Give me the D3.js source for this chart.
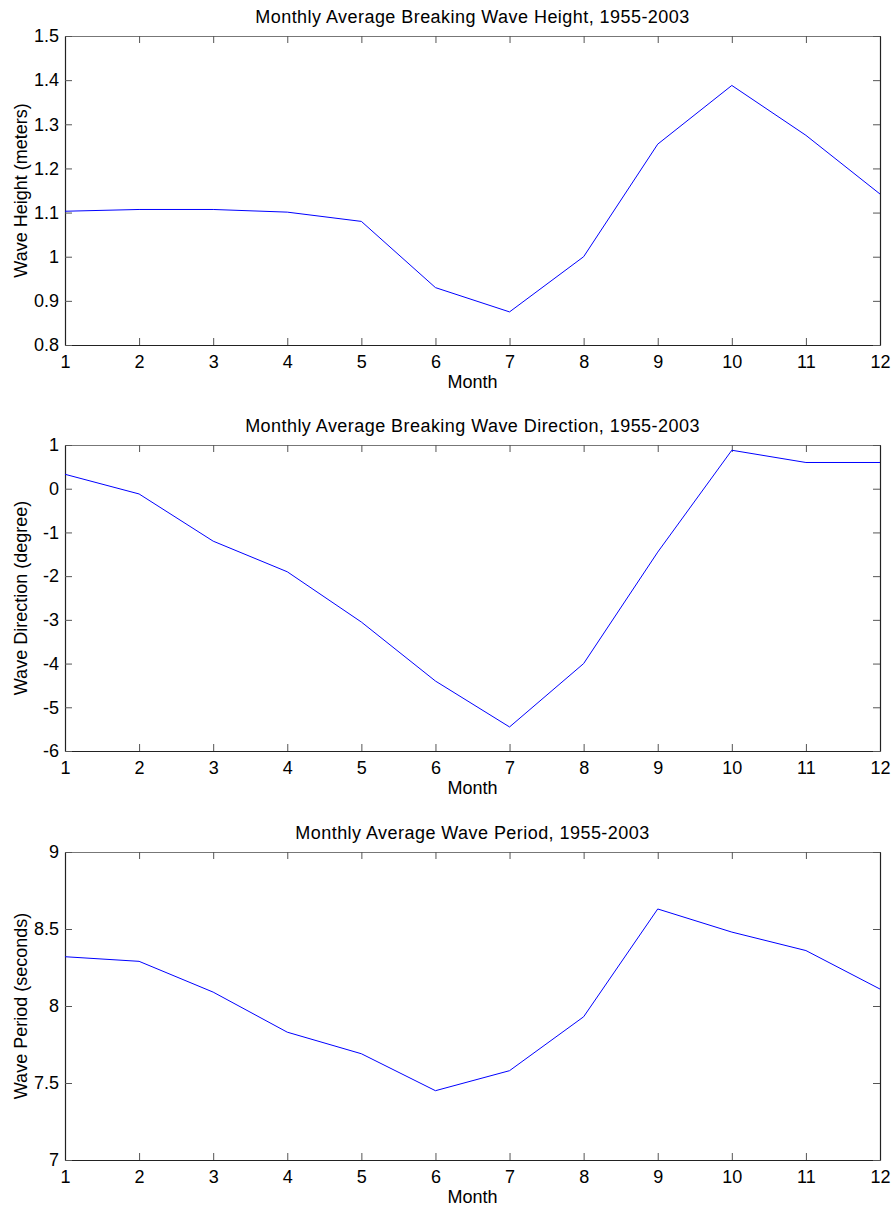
<!DOCTYPE html>
<html>
<head>
<meta charset="utf-8">
<script src="https://cdn.jsdelivr.net/npm/d3@7"></script>
<style>
  body { margin: 0; background: #fff; }
  svg { display: block; font-family: "Liberation Sans", Arial, sans-serif; }
</style>
</head>
<body>
<div id="chart"></div>
<script>
// monthly values
const months = [1, 2, 3, 4, 5, 6, 7, 8, 9, 10, 11, 12];
const waveHeight = [1.103, 1.107, 1.107, 1.101, 1.08, 0.93, 0.875, 1.0, 1.255, 1.388, 1.275, 1.142];
const waveDirection = [0.33, -0.12, -1.2, -1.9, -3.05, -4.4, -5.45, -4.0, -1.45, 0.88, 0.6, 0.6];
const wavePeriod = [8.32, 8.29, 8.09, 7.83, 7.69, 7.45, 7.58, 7.93, 8.63, 8.48, 8.36, 8.11];

const heightTicks = [0.8, 0.9, 1, 1.1, 1.2, 1.3, 1.4, 1.5];
const directionTicks = [-6, -5, -4, -3, -2, -1, 0, 1];
const periodTicks = [7, 7.5, 8, 8.5, 9];

const panels = [
  { title: "Monthly Average Breaking Wave Height, 1955-2003", ylabel: "Wave Height (meters)",
    values: waveHeight, domain: [0.8, 1.5], ticks: heightTicks, top: 36, bottom: 345 },
  { title: "Monthly Average Breaking Wave Direction, 1955-2003", ylabel: "Wave Direction (degree)",
    values: waveDirection, domain: [-6, 1], ticks: directionTicks, top: 445, bottom: 751 },
  { title: "Monthly Average Wave Period, 1955-2003", ylabel: "Wave Period (seconds)",
    values: wavePeriod, domain: [7, 9], ticks: periodTicks, top: 852, bottom: 1160 }
];

const width = 893, height = 1211;
const left = 65, right = 880;
const fs = 18;

const svg = d3.select("#chart").append("svg")
  .attr("width", width)
  .attr("height", height);

const x = d3.scaleLinear().domain([1, 12]).range([left, right]);

panels.forEach(function(p) {
  const y = d3.scaleLinear().domain(p.domain).range([p.bottom, p.top]);
  const g = svg.append("g");

  // axes with inward ticks, mirrored on top / right (matlab style)
  const fmt = function(d) { return String(d); };  // plain hyphen minus
  const tl = 7;
  const xb = g.append("g").attr("transform", "translate(0," + p.bottom + ")")
    .call(d3.axisBottom(x).tickValues(months).tickSizeInner(-tl).tickSizeOuter(0).tickPadding(10).tickFormat(fmt));
  const xt = g.append("g").attr("transform", "translate(0," + p.top + ")")
    .call(d3.axisTop(x).tickValues(months).tickSizeInner(-tl).tickSizeOuter(0).tickFormat(""));
  const yl = g.append("g").attr("transform", "translate(" + left + ",0)")
    .call(d3.axisLeft(y).tickValues(p.ticks).tickSizeInner(-tl).tickSizeOuter(0).tickPadding(6).tickFormat(fmt));
  const yr = g.append("g").attr("transform", "translate(" + right + ",0)")
    .call(d3.axisRight(y).tickValues(p.ticks).tickSizeInner(-tl).tickSizeOuter(0).tickFormat(""));

  [xb, xt, yl, yr].forEach(function(a) {
    a.selectAll("path").attr("stroke", "#222").attr("stroke-width", 1.2);
    a.selectAll("line").attr("stroke", "#555");
    a.selectAll("text").attr("fill", "#000").attr("font-size", fs)
      .attr("font-family", "'Liberation Sans', Arial, sans-serif");
  });
  xt.select("path").attr("stroke", "#777");

  const line = d3.line()
    .x(function(d, i) { return x(months[i]); })
    .y(function(d) { return y(d); });

  g.append("path")
    .datum(p.values)
    .attr("fill", "none")
    .attr("stroke", "#0000ff")
    .attr("stroke-width", 1)
    .attr("d", line);

  g.append("text")
    .attr("x", (left + right) / 2)
    .attr("y", p.top - 13)
    .attr("text-anchor", "middle")
    .attr("font-size", fs)
    .attr("letter-spacing", 0.45)
    .text(p.title);

  g.append("text")
    .attr("x", (left + right) / 2)
    .attr("y", p.bottom + 43)
    .attr("text-anchor", "middle")
    .attr("font-size", fs)
    .text("Month");

  g.append("text")
    .attr("transform", "translate(27," + ((p.top + p.bottom) / 2) + ") rotate(-90)")
    .attr("text-anchor", "middle")
    .attr("font-size", fs)
    .text(p.ylabel);
});
</script>
</body>
</html>
